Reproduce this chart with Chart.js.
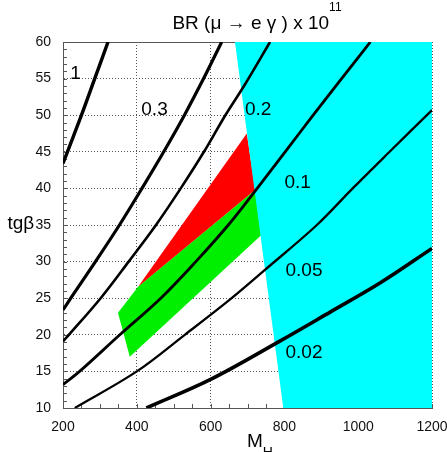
<!DOCTYPE html>
<html>
<head>
<meta charset="utf-8">
<script src="https://cdn.jsdelivr.net/npm/chart.js@4"></script>
<style>
  html, body { margin: 0; padding: 0; background: #fff; }
  #wrap { width: 447px; height: 452px; }
</style>
</head>
<body>
<div id="wrap"><canvas id="chart" width="447" height="452"></canvas></div>
<script>
// Axis ticks
const xTicks = [200, 400, 600, 800, 1000, 1200];
const yTicks = [10, 15, 20, 25, 30, 35, 40, 45, 50, 55, 60];

// BR(mu -> e gamma) x 10^11 contour labels
const brLabels = ["1", "0.3", "0.2", "0.1", "0.05", "0.02"];

// Contours: M_H and tg(beta)
const mH_br1 = [200, 212, 250, 286, 322];
const tgb_br1 = [43.4, 45, 50, 55, 60];
const mH_br03 = [200, 221, 288, 353, 414, 473, 529, 581, 630];
const tgb_br03 = [23.4, 25, 30, 35, 40, 45, 50, 55, 60];
const mH_br02 = [200, 216, 302, 378, 452, 519, 582, 640, 693, 761];
const tgb_br02 = [19.1, 20, 25, 30, 35, 40, 45, 50, 54.2, 60];
const mH_br01 = [200, 245, 354, 465, 560, 648, 720, 802, 878, 955, 1033];
const tgb_br01 = [13.2, 15, 20, 25, 30, 35, 39.6, 45, 50, 55, 60];
const mH_br005 = [232, 400, 530, 652, 748, 888, 985, 1085, 1200];
const tgb_br005 = [10, 15, 20, 24.8, 28.9, 35, 40, 45, 50.7];
const mH_br002 = [426, 600, 790, 924, 1060, 1200];
const tgb_br002 = [10, 13.9, 19.2, 23.1, 27.1, 31.8];

// Shaded regions (polygon corners)
const mH_excluded = [666, 1200, 1200, 797];
const tgb_excluded = [60, 60, 10, 10];
const mH_red = [404, 698, 721];
const tgb_red = [26.6, 47.5, 39.8];
const mH_green = [349, 404, 721, 737, 381];
const tgb_green = [23.0, 26.6, 39.8, 33.6, 17.0];

// where each contour label sits (data units)
const labelSpots = [[234, 55], [448, 50], [729, 50], [836, 40], [853, 28], [853, 16.8]];

const FONT = "'Liberation Sans', Arial, Helvetica, sans-serif";

function pts(xs, ys) {
  return xs.map((v, i) => ({ x: v, y: ys[i] }));
}

function contour(xs, ys, width) {
  return {
    data: pts(xs, ys),
    showLine: true,
    borderColor: "#000",
    borderWidth: width,
    pointRadius: 0,
    tension: 0.35,
    fill: false,
    clip: 0,
    order: 0,
  };
}

function region(xs, ys, color, order) {
  return {
    data: pts(xs, ys),
    showLine: true,
    borderWidth: 0,
    borderColor: "rgba(0,0,0,0)",
    backgroundColor: color,
    pointRadius: 0,
    fill: "shape",
    order: order,
  };
}

const decor = {
  id: "decor",
  beforeDatasetsDraw(chart) {
    const { ctx, chartArea: a, scales: { x, y } } = chart;
    ctx.save();
    ctx.strokeStyle = "#555";
    ctx.lineWidth = 1;
    ctx.beginPath();
    // top frame line
    ctx.moveTo(a.left, a.top + 0.5);
    ctx.lineTo(a.right, a.top + 0.5);
    // small inward ticks
    for (let v = 200; v <= 1200; v += 50) {
      const px = Math.round(x.getPixelForValue(v)) + 0.5;
      ctx.moveTo(px, a.bottom);
      ctx.lineTo(px, a.bottom - 4);
    }
    for (let v = 10; v <= 60; v += 1) {
      const py = Math.round(y.getPixelForValue(v)) + 0.5;
      ctx.moveTo(a.left, py);
      ctx.lineTo(a.left + 4, py);
    }
    ctx.stroke();
    ctx.restore();
  },
  afterDraw(chart) {
    const { ctx, scales: { x, y } } = chart;
    ctx.save();
    ctx.fillStyle = "#000";
    ctx.textBaseline = "alphabetic";

    // contour labels
    ctx.font = "19px " + FONT;
    ctx.textAlign = "center";
    brLabels.forEach((txt, i) => {
      const [lx, ly] = labelSpots[i];
      ctx.fillText(txt, x.getPixelForValue(lx), y.getPixelForValue(ly));
    });

    // title
    ctx.textAlign = "left";
    const main = "BR (\u03bc \u2192 e \u03b3 ) x 10";
    ctx.font = "19px " + FONT;
    const w = ctx.measureText(main).width;
    ctx.font = "12px " + FONT;
    const w2 = ctx.measureText("11").width;
    const start = 257 - (w + w2) / 2;
    ctx.font = "19px " + FONT;
    ctx.fillText(main, start, 28.5);
    ctx.font = "12px " + FONT;
    ctx.fillText("11", start + w, 11);

    // y axis title
    ctx.font = "19px " + FONT;
    ctx.fillText("tg\u03b2", 7.5, 228.5);

    // x axis title
    ctx.fillText("M", 247, 446.7);
    const mw = ctx.measureText("M").width;
    ctx.font = "14px " + FONT;
    ctx.fillText("H", 247 + mw, 457);
    ctx.restore();
  },
};

new Chart(document.getElementById("chart"), {
  type: "scatter",
  data: {
    datasets: [
      contour(mH_br1, tgb_br1, 3.4),
      contour(mH_br03, tgb_br03, 3.2),
      contour(mH_br02, tgb_br02, 2.6),
      contour(mH_br01, tgb_br01, 2.8),
      contour(mH_br005, tgb_br005, 2.3),
      contour(mH_br002, tgb_br002, 3.6),
      region(mH_excluded, tgb_excluded, "#00ffff", 1),
      region(mH_red, tgb_red, "#ff0000", 2),
      region(mH_green, tgb_green, "#00ee00", 3),
    ],
  },
  options: {
    responsive: false,
    animation: false,
    events: [],
    layout: { padding: { top: 42, right: 15, left: 0, bottom: 0 } },
    plugins: {
      legend: { display: false },
      tooltip: { enabled: false },
    },
    scales: {
      x: {
        type: "linear",
        min: 200,
        max: 1200,
        afterBuildTicks: (scale) => {
          scale.ticks = xTicks.map((v) => ({ value: v }));
        },
        afterFit: (scale) => {
          scale.height = 44;
          scale.paddingLeft = 0;
          scale.paddingRight = 0;
        },
        grid: { color: "#555", lineWidth: 1, drawTicks: false },
        border: { display: true, color: "#555", width: 1, dash: [1, 2] },
        ticks: {
          font: { family: FONT, size: 14 },
          color: "#111",
          padding: 11,
          maxRotation: 0,
          autoSkip: false,
          callback: (v) => String(v),
        },
      },
      y: {
        type: "linear",
        min: 10,
        max: 60,
        afterBuildTicks: (scale) => {
          scale.ticks = yTicks.map((v) => ({ value: v }));
        },
        afterFit: (scale) => {
          scale.width = 63;
        },
        grid: { color: "#555", lineWidth: 1, drawTicks: false },
        border: { display: true, color: "#555", width: 1, dash: [1, 2] },
        ticks: {
          font: { family: FONT, size: 14 },
          color: "#111",
          padding: 12,
          autoSkip: false,
          callback: (v) => String(v),
        },
      },
    },
  },
  plugins: [decor],
});
</script>
</body>
</html>
